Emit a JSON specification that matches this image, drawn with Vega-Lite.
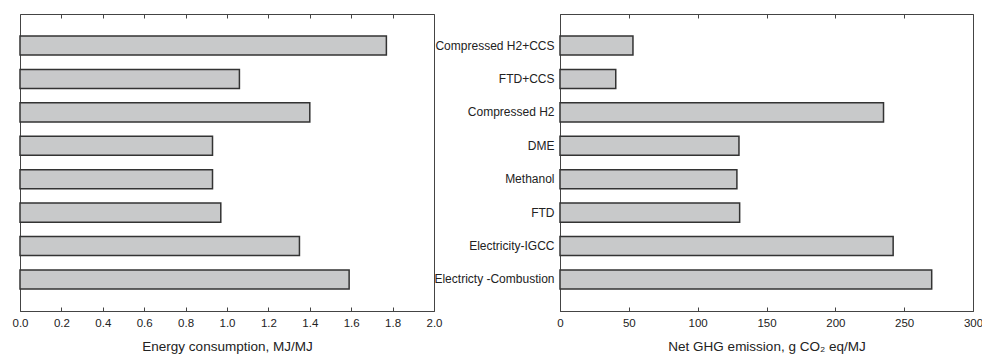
{
  "$schema": "https://vega.github.io/schema/vega-lite/v6.json",
  "padding": {"left": 11, "top": 13, "right": 0, "bottom": 5},
  "background": "white",
  "data": {"values": [
    {"fuel": "Compressed H2+CCS", "energy": 1.77, "ghg": 53},
    {"fuel": "FTD+CCS", "energy": 1.06, "ghg": 40.5},
    {"fuel": "Compressed H2", "energy": 1.40, "ghg": 235},
    {"fuel": "DME", "energy": 0.93, "ghg": 130},
    {"fuel": "Methanol", "energy": 0.93, "ghg": 128.5},
    {"fuel": "FTD", "energy": 0.97, "ghg": 130.5},
    {"fuel": "Electricity-IGCC", "energy": 1.35, "ghg": 242},
    {"fuel": "Electricty -Combustion", "energy": 1.59, "ghg": 270}
  ]},
  "config": {
    "font": "Liberation Sans",
    "view": {"stroke": "#444", "strokeWidth": 1},
    "axis": {"labelFont": "Liberation Sans", "titleFont": "Liberation Sans", "labelColor": "#222", "titleColor": "#222", "titleFontWeight": "normal", "domainColor": "#444", "tickColor": "#444", "grid": false, "labelFlush": false}
  },
  "hconcat": [
    {
      "width": 414,
      "height": 297,
      "resolve": {"axis": {"x": "independent"}},
      "layer": [
        {
          "mark": {"type": "bar", "fill": "#c8c9ca", "stroke": "#333", "strokeWidth": 1.5},
          "encoding": {
            "y": {"field": "fuel", "type": "nominal", "sort": null, "axis": null,
                  "scale": {"paddingInner": 0.43, "paddingOuter": 0.66}},
            "x": {"field": "energy", "type": "quantitative", "scale": {"domain": [0, 2]},
                  "axis": {"title": "Energy consumption, MJ/MJ", "values": [0, 0.2, 0.4, 0.6, 0.8, 1.0, 1.2, 1.4, 1.6, 1.8, 2.0],
                           "format": ".1f", "tickSize": -4, "labelPadding": 10, "labelFontSize": 11.5, "titleFontSize": 13.5, "titlePadding": 11}}
          }
        },
        {
          "mark": {"type": "rule", "opacity": 0},
          "encoding": {
            "x": {"field": "energy", "type": "quantitative",
                  "axis": {"orient": "top", "title": null, "labels": false, "domain": false, "values": [0, 0.2, 0.4, 0.6, 0.8, 1.0, 1.2, 1.4, 1.6, 1.8, 2.0], "tickSize": -4, "tickWidth": 1}}
          }
        }
      ]
    },
    {
      "width": 413,
      "height": 297,
      "resolve": {"axis": {"x": "independent"}},
      "layer": [
        {
          "mark": {"type": "bar", "fill": "#c8c9ca", "stroke": "#333", "strokeWidth": 1.5},
          "encoding": {
            "y": {"field": "fuel", "type": "nominal", "sort": null, "title": null,
                  "scale": {"paddingInner": 0.43, "paddingOuter": 0.66},
                  "axis": {"ticks": false, "labelPadding": 6, "labelFontSize": 12, "domain": true}},
            "x": {"field": "ghg", "type": "quantitative", "scale": {"domain": [0, 300]},
                  "axis": {"title": "Net GHG emission, g CO₂ eq/MJ", "values": [0, 50, 100, 150, 200, 250, 300],
                           "tickSize": -4, "labelPadding": 10, "labelFontSize": 11.5, "titleFontSize": 13.5, "titlePadding": 11}}
          }
        },
        {
          "mark": {"type": "rule", "opacity": 0},
          "encoding": {
            "x": {"field": "ghg", "type": "quantitative",
                  "axis": {"orient": "top", "title": null, "labels": false, "domain": false, "values": [0, 50, 100, 150, 200, 250, 300], "tickSize": -4, "tickWidth": 1}}
          }
        }
      ]
    }
  ],
  "spacing": 126,
  "bounds": "flush"
}
